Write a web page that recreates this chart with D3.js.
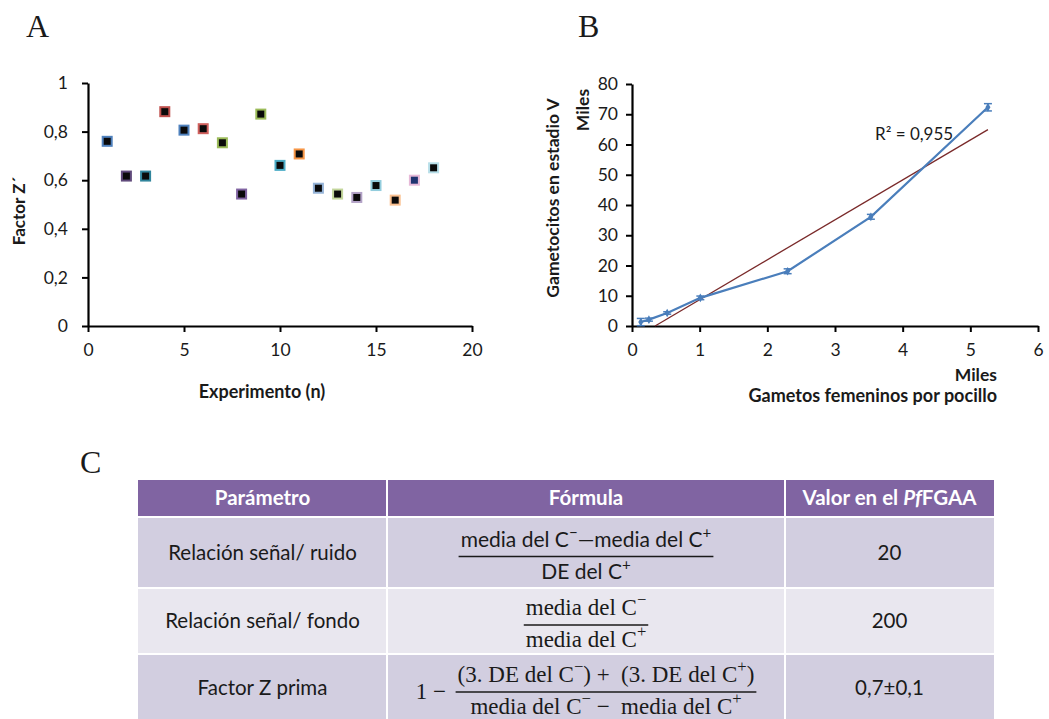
<!DOCTYPE html>
<html>
<head>
<meta charset="utf-8">
<script src="https://cdn.jsdelivr.net/npm/d3@7"></script>
<style>
  body { margin: 0; background: #fff; }
  svg text { font-family: Lato, "Open Sans", sans-serif; fill: #1a1a1a; white-space: pre; }
</style>
</head>
<body>
<svg id="fig" width="1049" height="719"></svg>
<script>
// ---- panel A : factor Z' per experiment
var experimento = [1, 2, 3, 4, 5, 6, 7, 8, 9, 10, 11, 12, 13, 14, 15, 16, 17, 18];
var factorZ = [0.76, 0.617, 0.617, 0.882, 0.806, 0.812, 0.754, 0.543, 0.872,
               0.661, 0.708, 0.567, 0.543, 0.529, 0.578, 0.518, 0.60, 0.651];
var markerColors = ["#4f81bd", "#604a7b", "#31859c", "#c0504d", "#4f81bd", "#d0605d",
                    "#9bbb59", "#8064a2", "#9bbb59", "#4bacc6", "#f79646", "#95b3d7",
                    "#c3d69b", "#b3a2c7", "#93cddd", "#fac090", "#e6b9d8", "#b7dee8"];
var xTicksA = [0, 5, 10, 15, 20];
var yTicksA = [0, 0.2, 0.4, 0.6, 0.8, 1];
var yTickLabelsA = ["0", "0,2", "0,4", "0,6", "0,8", "1"];

// ---- panel B : gametocitos vs gametos femeninos (miles)
var gametosFem = [0.13, 0.25, 0.52, 1.01, 2.30, 3.53, 5.26];
var gametocitos = [1.3, 2.1, 4.3, 9.3, 18.1, 36.1, 72.3];
var errGametocitos = [1.2, 0.5, 0.4, 0.6, 0.8, 0.8, 1.2];
var trendSlope = 13.2, trendIntercept = -4.5;
var r2Label = "R² = 0,955";
var xTicksB = [0, 1, 2, 3, 4, 5, 6];
var yTicksB = [0, 10, 20, 30, 40, 50, 60, 70, 80];

// ---- panel C : table
var tableHeader = ["Parámetro", "Fórmula", "Valor en el PfFGAA"];
var parametros = ["Relación señal/ ruido", "Relación señal/ fondo", "Factor Z prima"];
var formulaPrefix = ["", "", "1 − "];
var formulaNum = ["media del C^−^—media del C^+^", "media del C^−^", "(3. DE del C^−^) +  (3. DE del C^+^)"];
var formulaDen = ["DE del C^+^", "media del C^+^", "media del C^−^ −  media del C^+^"];
var formulaSerif = [false, true, true];
var valores = ["20", "200", "0,7±0,1"];

var svg = d3.select("#fig");

// panel letters
svg.selectAll(".letter")
  .data([["A", 26, 37], ["B", 578, 37], ["C", 80, 473]])
  .enter().append("text")
    .attr("class", "letter")
    .attr("x", function(d) { return d[1]; })
    .attr("y", function(d) { return d[2]; })
    .style("font-family", "'Liberation Serif', serif")
    .style("font-size", "32px")
    .text(function(d) { return d[0]; });

function styleAxis(g) {
  g.select(".domain").attr("stroke", "#000").attr("stroke-width", 2.2);
  g.selectAll(".tick line").attr("stroke", "#000").attr("stroke-width", 2);
  g.selectAll(".tick text").style("font-family", "Lato, sans-serif").style("font-size", "17.5px").attr("fill", "#262626");
}

// ================= panel A
var xA = d3.scaleLinear().domain([0, 20]).range([88, 472]);
var yA = d3.scaleLinear().domain([0, 1]).range([326, 83]);

var gA = svg.append("g");
gA.append("g")
    .attr("transform", "translate(0," + yA(0) + ")")
    .call(d3.axisBottom(xA).tickValues(xTicksA).tickSize(6).tickSizeOuter(0).tickPadding(12))
    .call(styleAxis);
gA.append("g")
    .attr("transform", "translate(" + xA(0) + ",0)")
    .call(d3.axisLeft(yA).tickValues(yTicksA).tickSize(6).tickSizeOuter(0).tickPadding(14)
      .tickFormat(function(d, i) { return yTickLabelsA[i]; }))
    .call(styleAxis);

gA.selectAll(".pt")
  .data(experimento)
  .enter().append("rect")
    .attr("class", "pt")
    .attr("x", function(d) { return xA(d) - 4.5; })
    .attr("y", function(d, i) { return yA(factorZ[i]) - 4.5; })
    .attr("width", 9)
    .attr("height", 9)
    .attr("fill", function(d, i) { return i == 16 ? "#1f3470" : "#0a0a0a"; })
    .attr("stroke", function(d, i) { return markerColors[i]; })
    .attr("stroke-width", 2);

gA.append("text")
    .attr("transform", "translate(25,211) rotate(-90)")
    .attr("text-anchor", "middle")
    .style("font-size", "17px").style("font-weight", "bold")
    .text("Factor Z´");
gA.append("text")
    .attr("x", 262).attr("y", 398)
    .attr("text-anchor", "middle")
    .style("font-size", "18px").style("font-weight", "bold")
    .text("Experimento (n)");

// ================= panel B
var xB = d3.scaleLinear().domain([0, 6]).range([632, 1038]);
var yB = d3.scaleLinear().domain([0, 80]).range([326, 84]);

var gB = svg.append("g");
gB.append("g")
    .attr("transform", "translate(0," + yB(0) + ")")
    .call(d3.axisBottom(xB).tickValues(xTicksB).tickSize(6).tickSizeOuter(0).tickPadding(12)
      .tickFormat(d3.format("d")))
    .call(styleAxis);
gB.append("g")
    .attr("transform", "translate(" + xB(0) + ",0)")
    .call(d3.axisLeft(yB).tickValues(yTicksB).tickSize(6).tickSizeOuter(0).tickPadding(8))
    .call(styleAxis);

// linear trend
var x0 = -trendIntercept / trendSlope, x1 = gametosFem[gametosFem.length - 1];
gB.append("line")
    .attr("x1", xB(x0)).attr("y1", yB(0))
    .attr("x2", xB(x1)).attr("y2", yB(trendSlope * x1 + trendIntercept))
    .attr("stroke", "#7a2a2a").attr("stroke-width", 1.3);

var pts = gametosFem.map(function(v, i) { return [v, gametocitos[i], errGametocitos[i]]; });
gB.append("path")
    .datum(pts)
    .attr("fill", "none")
    .attr("stroke", "#4a7ebb")
    .attr("stroke-width", 2.2)
    .attr("d", d3.line().x(function(d) { return xB(d[0]); }).y(function(d) { return yB(d[1]); }));

var eb = gB.selectAll(".err").data(pts).enter().append("g").attr("class", "err");
eb.append("line")
    .attr("x1", function(d) { return xB(d[0]); }).attr("x2", function(d) { return xB(d[0]); })
    .attr("y1", function(d) { return yB(d[1] - d[2]); }).attr("y2", function(d) { return yB(d[1] + d[2]); })
    .attr("stroke", "#4a7ebb").attr("stroke-width", 1.5);
eb.selectAll(".cap")
  .data(function(d) { return [[d[0], d[1] - d[2]], [d[0], d[1] + d[2]]]; })
  .enter().append("line")
    .attr("x1", function(d) { return xB(d[0]) - 4; }).attr("x2", function(d) { return xB(d[0]) + 4; })
    .attr("y1", function(d) { return yB(d[1]); }).attr("y2", function(d) { return yB(d[1]); })
    .attr("stroke", "#4a7ebb").attr("stroke-width", 1.5);
eb.append("path")
    .attr("transform", function(d) { return "translate(" + xB(d[0]) + "," + yB(d[1]) + ")"; })
    .attr("d", d3.symbol(d3.symbolDiamond, 22))
    .attr("fill", "#4a7ebb");

gB.append("text")
    .attr("x", 875).attr("y", 140)
    .style("font-size", "17px")
    .text(r2Label);

gB.append("text")
    .attr("transform", "translate(559,198) rotate(-90)")
    .attr("text-anchor", "middle")
    .style("font-size", "17.5px").style("font-weight", "bold")
    .text("Gametocitos en estadio V");
gB.append("text")
    .attr("transform", "translate(589,110) rotate(-90)")
    .attr("text-anchor", "middle")
    .style("font-size", "17.5px").style("font-weight", "bold")
    .text("Miles");
gB.append("text")
    .attr("x", 997).attr("y", 381)
    .attr("text-anchor", "end")
    .style("font-size", "17.5px").style("font-weight", "bold")
    .text("Miles");
gB.append("text")
    .attr("x", 997).attr("y", 402)
    .attr("text-anchor", "end")
    .style("font-size", "18px").style("font-weight", "bold")
    .text("Gametos femeninos por pocillo");

// ================= panel C table
var colEdges = [138, 387, 785, 994];
var headTop = 480, headH = 36, rowH = [69, 64, 66], gap = 2;
var rowTops = [];
var yy = headTop + headH + gap;
rowH.forEach(function(h) { rowTops.push(yy); yy += h + gap; });
var rowFill = ["#d2cee0", "#e9e7ef", "#d2cee0"];

var gC = svg.append("g");
// header
gC.selectAll(".hcell")
  .data(tableHeader)
  .enter().append("rect")
    .attr("x", function(d, i) { return colEdges[i] + (i ? gap / 2 : 0); })
    .attr("y", headTop)
    .attr("width", function(d, i) { return colEdges[i + 1] - colEdges[i] - (i ? gap / 2 : 0) - (i < 2 ? gap / 2 : 0); })
    .attr("height", headH)
    .attr("fill", "#8064a2");
var ht = gC.selectAll(".htext")
  .data(tableHeader)
  .enter().append("text")
    .attr("x", function(d, i) { return (colEdges[i] + colEdges[i + 1]) / 2; })
    .attr("y", headTop + headH / 2 + 7)
    .attr("text-anchor", "middle")
    .style("font-size", "20.5px").style("font-weight", "bold")
    .style("fill", "#fff");
ht.each(function(d) {
  var t = d3.select(this);
  if (d.indexOf("Pf") >= 0) {
    var parts = d.split("Pf");
    t.append("tspan").text(parts[0]);
    t.append("tspan").style("font-style", "italic").text("Pf");
    t.append("tspan").text(parts[1]);
  } else t.text(d);
});

// body cells
parametros.forEach(function(p, r) {
  for (var c = 0; c < 3; c++) {
    gC.append("rect")
      .attr("x", colEdges[c] + (c ? gap / 2 : 0))
      .attr("y", rowTops[r])
      .attr("width", colEdges[c + 1] - colEdges[c] - (c ? gap / 2 : 0) - (c < 2 ? gap / 2 : 0))
      .attr("height", rowH[r])
      .attr("fill", rowFill[r]);
  }
});

gC.selectAll(".ptext").data(parametros).enter().append("text")
  .attr("x", (colEdges[0] + colEdges[1]) / 2)
  .attr("y", function(d, i) { return rowTops[i] + rowH[i] / 2 + 7; })
  .attr("text-anchor", "middle")
  .style("font-size", "20.5px")
  .text(function(d) { return d; });
gC.selectAll(".vtext").data(valores).enter().append("text")
  .attr("x", (colEdges[2] + colEdges[3]) / 2)
  .attr("y", function(d, i) { return rowTops[i] + rowH[i] / 2 + 7; })
  .attr("text-anchor", "middle")
  .style("font-size", "20.5px")
  .text(function(d) { return d; });

// rich text with ^sup^ markers
function rich(g, str, x, y, serif, size, anchor) {
  var t = g.append("text").attr("x", x).attr("y", y)
    .attr("text-anchor", anchor || "middle")
    .style("font-family", serif ? "'Liberation Serif', serif" : "Lato, sans-serif")
    .style("font-size", size + "px");
  var parts = str.split("^"), up = false;
  parts.forEach(function(s, i) {
    if (s === "") return;
    if (i % 2 == 1) {
      t.append("tspan").attr("dy", -size * 0.42).style("font-size", (size * 0.72) + "px").text(s);
      up = true;
    } else {
      var ts = t.append("tspan").text(s);
      if (up) { ts.attr("dy", size * 0.42); up = false; }
    }
  });
  return t;
}

var formCx = (colEdges[1] + colEdges[2]) / 2;
formulaNum.forEach(function(num, r) {
  var serif = formulaSerif[r];
  var size = serif ? 23 : 21;
  var lineY = rowTops[r] + rowH[r] / 2 + 4;
  var fg = gC.append("g");
  var tn = rich(fg, num, 0, lineY - 10, serif, size);
  var td = rich(fg, formulaDen[r], 0, lineY + 22, serif, size);
  var w = Math.max(tn.node().getBBox().width, td.node().getBBox().width) + 4;
  var pre = null, pw = 0;
  if (formulaPrefix[r]) {
    pre = rich(fg, formulaPrefix[r], 0, lineY + 7, serif, size, "start");
    pw = pre.node().getBBox().width + 4;
  }
  var left = formCx - (w + pw) / 2;
  if (pre) pre.attr("x", left);
  var fc = left + pw + w / 2;
  tn.attr("x", fc);
  td.attr("x", fc);
  fg.append("line")
    .attr("x1", fc - w / 2).attr("x2", fc + w / 2)
    .attr("y1", lineY).attr("y2", lineY)
    .attr("stroke", "#1a1a1a").attr("stroke-width", 1.4);
});
</script>
</body>
</html>
